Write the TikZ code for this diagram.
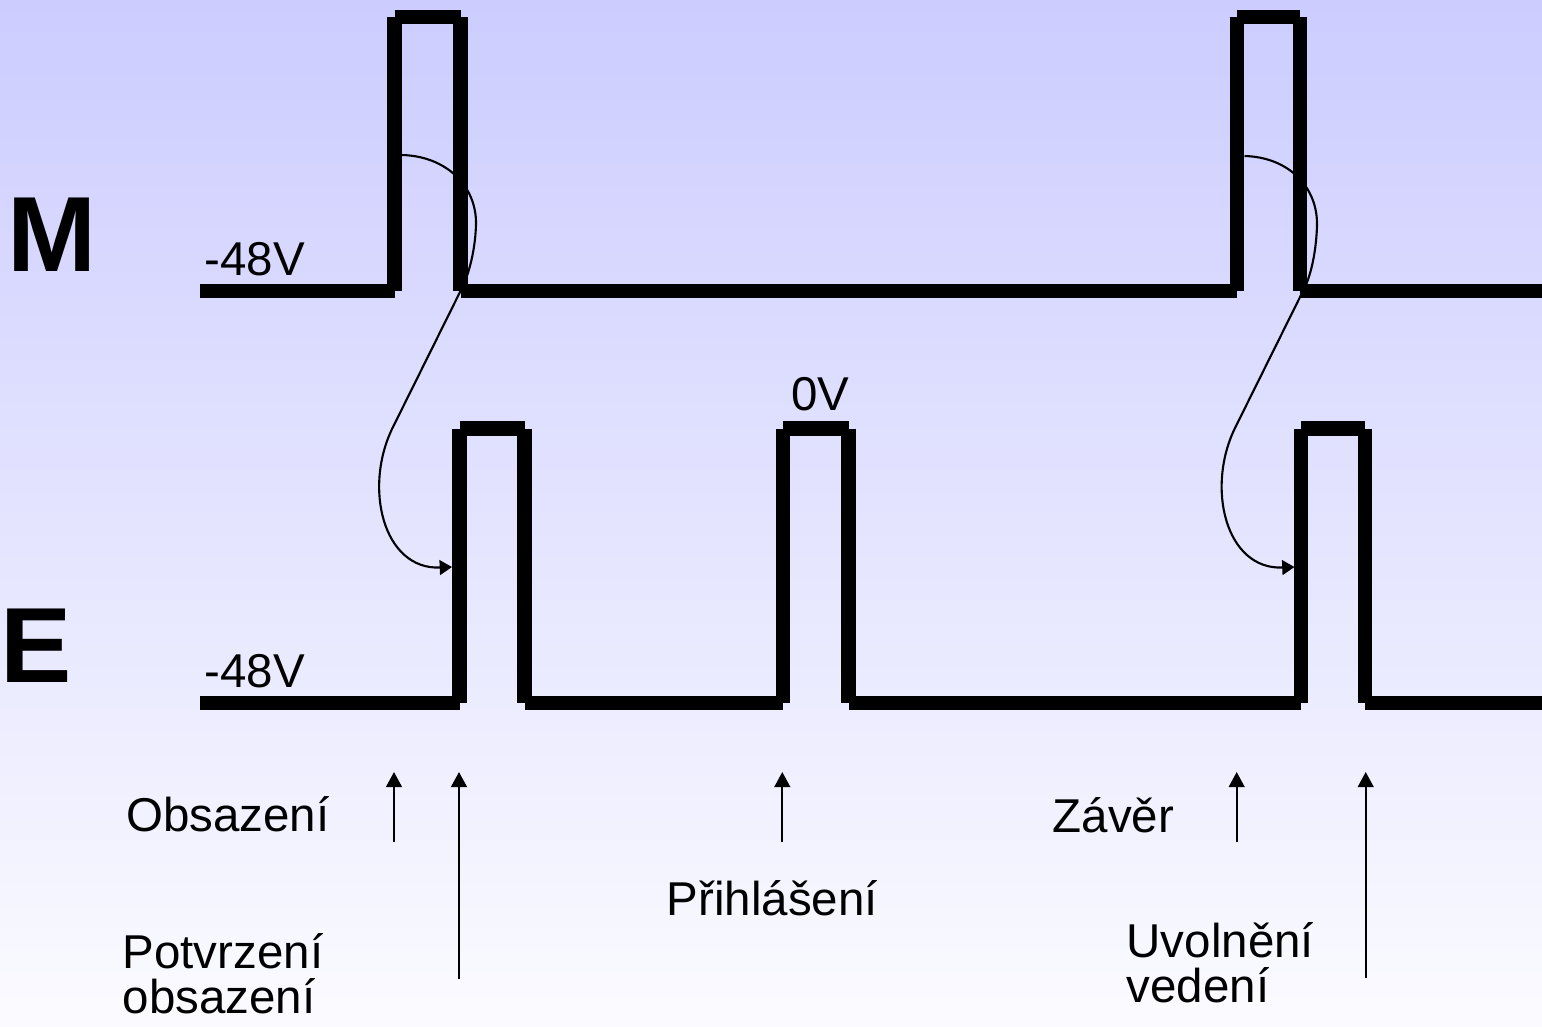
\documentclass[tikz,border=0pt]{standalone}
\usepackage{fontspec}
\setmainfont{Liberation Sans}
\usetikzlibrary{arrows.meta}
\definecolor{bgtop}{RGB}{204,204,255}
\definecolor{bgbottom}{RGB}{251,251,255}
\begin{document}
\begin{tikzpicture}[x=0.01cm,y=-0.01cm,
   wave/.style={line width=4.1pt,line cap=butt},
   tickarrow/.style={line width=0.6pt,-{Triangle[length=4.3pt,width=4.5pt]}},
   linkarrow/.style={line width=0.6pt,-{Triangle[length=3.5pt,width=4.2pt]}},
   lbl/.style={font=\fontsize{13.5}{12.8}\selectfont,inner sep=0pt,anchor=base west,align=left},
   big/.style={font=\fontsize{30.4}{32}\selectfont\bfseries,inner sep=0pt,anchor=base west}]
   \shade[top color=bgtop,bottom color=bgbottom] (0,0) rectangle (1542,1026);
   \useasboundingbox (0,0) rectangle (1542,1026);

   \node[big] (mlabel) at (7,271) {M};
   \node[lbl] (mvolt) at (204,275) {-48V};
   \draw[wave] (200,291) -- (394.5,291);
   \draw[wave] (394.5,291) -- (394.5,17);
   \draw[wave] (394.5,17) -- (460.5,17);
   \draw[wave] (460.5,17) -- (460.5,291);
   \draw[wave] (460.5,291) -- (1237,291);
   \draw[wave] (1237,291) -- (1237,17);
   \draw[wave] (1237,17) -- (1300,17);
   \draw[wave] (1300,17) -- (1300,291);
   \draw[wave] (1300,291) -- (1542,291);

   \node[big] (elabel) at (0,682) {E};
   \node[lbl] (evolt) at (204,687) {-48V};
   \node[lbl] (zerovolt) at (790.5,410) {0V};
   \draw[wave] (200,703) -- (459.5,703);
   \draw[wave] (459.5,703) -- (459.5,428.5);
   \draw[wave] (459.5,428.5) -- (524.5,428.5);
   \draw[wave] (524.5,428.5) -- (524.5,703);
   \draw[wave] (524.5,703) -- (783,703);
   \draw[wave] (783,703) -- (783,428.5);
   \draw[wave] (783,428.5) -- (848.5,428.5);
   \draw[wave] (848.5,428.5) -- (848.5,703);
   \draw[wave] (848.5,703) -- (1301,703);
   \draw[wave] (1301,703) -- (1301,428.5);
   \draw[wave] (1301,428.5) -- (1365,428.5);
   \draw[wave] (1365,428.5) -- (1365,703);
   \draw[wave] (1365,703) -- (1542,703);

   \coordinate (mstart1) at (402,155);
   \coordinate (eend1) at (452,567);
   \draw[linkarrow] (mstart1) .. controls (445,156) and (477,185) .. (476,225)
      .. controls (475,255) and (467,278) .. (462,288) -- (393,427)
      .. controls (363,487) and (383,570) .. (eend1);
   \coordinate (mstart2) at (1244.5,156);
   \coordinate (eend2) at (1294.5,567);
   \draw[linkarrow] (mstart2) .. controls (1287.5,157) and (1318,186) .. (1317,226)
      .. controls (1316,256) and (1309.5,278) .. (1304.5,288) -- (1235.5,427)
      .. controls (1205.5,487) and (1225.5,570) .. (eend2);

   \coordinate (tail1) at (394,842);
   \coordinate (tip1) at (394,772);
   \draw[tickarrow] (tail1) -- (tip1);
   \coordinate (tail2) at (459,979);
   \coordinate (tip2) at (459,772);
   \draw[tickarrow] (tail2) -- (tip2);
   \coordinate (tail3) at (782.3,842);
   \coordinate (tip3) at (782.3,772);
   \draw[tickarrow] (tail3) -- (tip3);
   \coordinate (tail4) at (1236.7,842);
   \coordinate (tip4) at (1236.7,772);
   \draw[tickarrow] (tail4) -- (tip4);
   \coordinate (tail5) at (1365.7,978);
   \coordinate (tip5) at (1365.7,772);
   \draw[tickarrow] (tail5) -- (tip5);

   \node[lbl] (obsazeni) at (125.5,831) {Obsazení};
   \node[lbl] (potvrzeni) at (122,1013) {Potvrzení\\obsazení};
   \node[lbl] (prihlaseni) at (666,915) {Přihlášení};
   \node[lbl] (zaver) at (1052,832) {Závěr};
   \node[lbl] (uvolneni) at (1126,1002) {Uvolnění\\vedení};
\end{tikzpicture}
\end{document}
